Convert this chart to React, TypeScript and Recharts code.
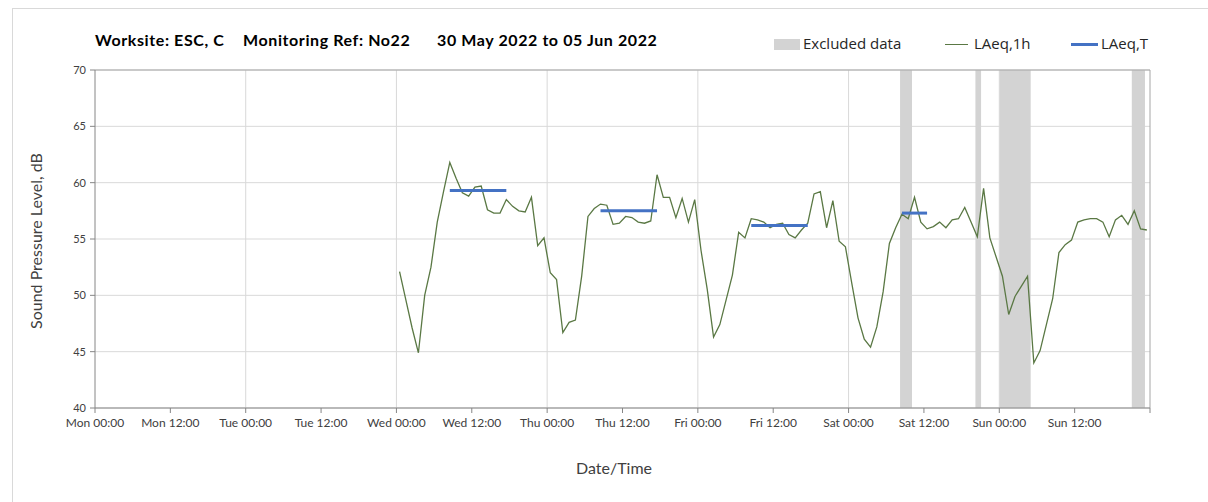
import React from "react";
import {
  ComposedChart,
  Line,
  XAxis,
  YAxis,
  CartesianGrid,
  ReferenceArea,
  ReferenceLine,
} from "recharts";

// hours since Mon 00:00 for each axis tick
const tickHours = [0, 12, 24, 36, 48, 60, 72, 84, 96, 108, 120, 132, 144, 156, 168];
const tickLabels = [
  "Mon 00:00",
  "Mon 12:00",
  "Tue 00:00",
  "Tue 12:00",
  "Wed 00:00",
  "Wed 12:00",
  "Thu 00:00",
  "Thu 12:00",
  "Fri 00:00",
  "Fri 12:00",
  "Sat 00:00",
  "Sat 12:00",
  "Sun 00:00",
  "Sun 12:00",
  "",
];
const dayLines = [24, 48, 72, 96, 120, 144];
const yTicks = [40, 45, 50, 55, 60, 65, 70];

const titleParts = ["Worksite: ESC, C", "Monitoring Ref: No22", "30 May 2022 to 05 Jun 2022"];
const titleLeft = [95, 243, 437];

// LAeq,1h hourly values, Wed 00:00 -> Sun 23:00 (plotted mid-hour)
const firstHour = 48;
const laeq1h = [
  52.1, 49.6, 47.1, 44.9, 50.0, 52.5, 56.5, 59.2, 61.8, 60.4, 59.1, 58.8,
  59.6, 59.7, 57.6, 57.3, 57.3, 58.5, 57.9, 57.5, 57.4, 58.7, 54.4, 55.1,
  52.0, 51.4, 46.7, 47.6, 47.8, 51.7, 57.0, 57.7, 58.1, 58.0, 56.3, 56.4,
  57.0, 56.9, 56.5, 56.4, 56.6, 60.7, 58.7, 58.7, 56.9, 58.6, 56.5, 58.5,
  54.0, 50.5, 46.3, 47.4, 49.6, 51.8, 55.6, 55.1, 56.8, 56.7, 56.5, 56.0,
  56.3, 56.4, 55.4, 55.1, 55.8, 56.4, 59.0, 59.2, 56.0, 58.4, 54.8, 54.3,
  51.1, 48.0, 46.1, 45.4, 47.2, 50.3, 54.6, 56.0, 57.2, 56.8, 58.7, 56.5,
  55.9, 56.1, 56.5, 56.0, 56.7, 56.8, 57.8, 56.5, 55.2, 59.5, 55.1, 53.4,
  51.7, 48.3, 49.9, 50.8, 51.7, 44.0, 45.1, 47.4, 49.7, 53.8, 54.5, 54.9,
  56.5, 56.7, 56.8, 56.8, 56.5, 55.2, 56.7, 57.1, 56.3, 57.5, 55.9, 55.8,
];

// LAeq,T daytime periods
const periodStart = [56.5, 80.5, 104.5, 128.5];
const periodEnd = [65.5, 89.5, 113.5, 132.5];
const laeqT = [59.3, 57.5, 56.2, 57.3];

// excluded data windows (hours)
const excludedStart = [128.2, 140.2, 144.0, 165.1];
const excludedEnd = [130.1, 141.1, 149.0, 167.2];

const hourlyData = laeq1h.map((v, i) => ({ t: firstHour + i + 0.5, v }));
const periodData = laeqT.map((v, i) => [
  { t: periodStart[i], v },
  { t: periodEnd[i], v },
]);

const FONT = "Lato, 'Open Sans', sans-serif";
const AXIS = "#868686";
const GRID = "#d9d9d9";

export default function App() {
  return (
    <div
      style={{
        position: "absolute",
        left: 0,
        top: 0,
        width: 1208,
        height: 502,
        overflow: "hidden",
        background: "#fff",
        fontFamily: FONT,
      }}
    >
      <div
        style={{
          position: "absolute",
          left: 12,
          top: 8,
          width: 1230,
          height: 520,
          border: "1px solid #d9d9d9",
        }}
      />
      {titleParts.map((p, i) => (
        <div
          key={p}
          style={{
            position: "absolute",
            left: titleLeft[i],
            top: 30,
            fontSize: 16,
            fontWeight: 700,
            letterSpacing: 0.6,
            color: "#000",
            whiteSpace: "pre",
          }}
        >
          {p}
        </div>
      ))}

      <div
        style={{
          position: "absolute",
          top: 33,
          left: 774,
          fontFamily: "'Open Sans', sans-serif",
          fontSize: 15,
          color: "#262626",
          whiteSpace: "pre",
        }}
      >
        <span style={{ position: "absolute", left: 0, top: 6, width: 26, height: 11, background: "#d3d3d3" }} />
        <span style={{ position: "absolute", left: 29, top: 0 }}>Excluded data</span>
        <span style={{ position: "absolute", left: 171, top: 11, width: 23, height: 1.3, background: "#5a7844" }} />
        <span style={{ position: "absolute", left: 200, top: 0 }}>LAeq,1h</span>
        <span style={{ position: "absolute", left: 297, top: 10, width: 27, height: 3, background: "#4472c4" }} />
        <span style={{ position: "absolute", left: 327, top: 0 }}>LAeq,T</span>
      </div>

      <div
        style={{
          position: "absolute",
          left: 35,
          top: 241,
          transform: "translate(-50%, -50%) rotate(-90deg)",
          fontSize: 16,
          color: "#404040",
          whiteSpace: "pre",
        }}
      >
        Sound Pressure Level, dB
      </div>
      <div
        style={{
          position: "absolute",
          left: 614,
          top: 467,
          transform: "translate(-50%, -50%)",
          fontSize: 16,
          color: "#404040",
        }}
      >
        Date/Time
      </div>

      <div style={{ position: "absolute", left: 0, top: 0 }}>
        <ComposedChart
          width={1208}
          height={502}
          margin={{ top: 70, right: 58, bottom: 64, left: 65 }}
        >
          <CartesianGrid vertical={false} stroke={GRID} strokeWidth={1} />
          {dayLines.map((d) => (
            <ReferenceLine key={d} x={d} stroke={GRID} strokeWidth={1} />
          ))}
          <ReferenceLine y={70} stroke="#a6a6a6" />
          <ReferenceLine x={168} stroke="#a6a6a6" />
          {excludedStart.map((s, i) => (
            <ReferenceArea
              key={s}
              x1={s}
              x2={excludedEnd[i]}
              y1={40}
              y2={70}
              fill="#d3d3d3"
              fillOpacity={1}
              stroke="none"
            />
          ))}
          <XAxis
            dataKey="t"
            type="number"
            domain={[0, 168]}
            ticks={tickHours}
            tickFormatter={(h) => tickLabels[tickHours.indexOf(h)] ?? ""}
            interval={0}
            height={30}
            stroke={AXIS}
            tickSize={5}
            tickMargin={5}
            tick={{ fontSize: 12, fill: "#404040", fontFamily: FONT }}
            allowDuplicatedCategory={false}
          />
          <YAxis
            type="number"
            domain={[40, 70]}
            ticks={yTicks}
            width={30}
            stroke={AXIS}
            tickSize={5}
            tickMargin={4}
            tick={{ fontSize: 11, fill: "#404040", fontFamily: FONT }}
          />
          <Line
            data={hourlyData}
            dataKey="v"
            type="linear"
            stroke="#5a7844"
            strokeWidth={1.3}
            dot={false}
            isAnimationActive={false}
          />
          {periodData.map((seg, i) => (
            <Line
              key={i}
              data={seg}
              dataKey="v"
              type="linear"
              stroke="#4472c4"
              strokeWidth={3}
              dot={false}
              isAnimationActive={false}
            />
          ))}
        </ComposedChart>
      </div>
    </div>
  );
}
